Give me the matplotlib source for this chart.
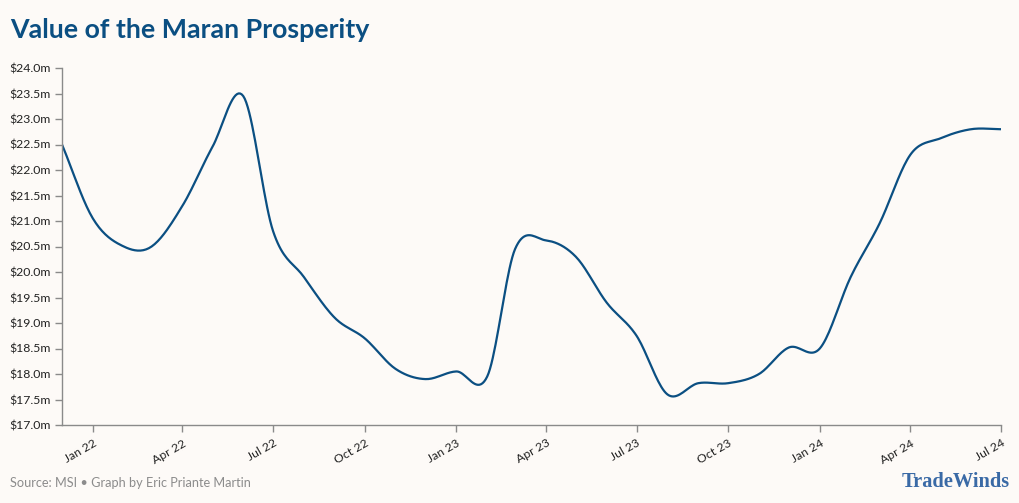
import numpy as np
import pandas as pd
import matplotlib
matplotlib.use("Agg")
import matplotlib.pyplot as plt
import matplotlib.dates as mdates

matplotlib.rcParams['font.family'] = ['Lato', 'DejaVu Sans']

# Monthly values, Dec 2021 - Jul 2024 ($m)
months = pd.date_range("2021-12-01", "2024-07-01", freq="MS")
values = [22.5, 21.05, 20.5, 20.5, 21.3, 22.45, 23.45, 20.8, 19.9, 19.1,
          18.7, 18.1, 17.9, 18.05, 17.95, 20.45, 20.62, 20.3, 19.4, 18.75,
          17.6, 17.82, 17.82, 18.0, 18.52, 18.5, 19.9, 20.95, 22.3, 22.62,
          22.8, 22.8]

tick_dates = pd.date_range("2022-01-01", "2024-07-01", freq="QS")
tick_labels = [d.strftime("%b %y") for d in tick_dates]
y_ticks = np.arange(17.0, 24.01, 0.5)

bg = "#fdfaf7"
line_col = "#0b4f82"
axis_col = "#8a8a8a"


def smooth(x, y, n=20):
    # catmull-rom style cubic hermite through the points
    x = np.asarray(x, float)
    y = np.asarray(y, float)
    m = np.zeros_like(y)
    m[1:-1] = (y[2:] - y[:-2]) / (x[2:] - x[:-2])
    m[0] = (y[1] - y[0]) / (x[1] - x[0])
    m[-1] = (y[-1] - y[-2]) / (x[-1] - x[-2])
    xs, ys = [], []
    for i in range(len(x) - 1):
        h = x[i + 1] - x[i]
        t = np.linspace(0, 1, n, endpoint=False)
        h00 = 2 * t**3 - 3 * t**2 + 1
        h10 = t**3 - 2 * t**2 + t
        h01 = -2 * t**3 + 3 * t**2
        h11 = t**3 - t**2
        xs.append(x[i] + t * h)
        ys.append(h00 * y[i] + h10 * h * m[i] + h01 * y[i + 1] + h11 * h * m[i + 1])
    xs.append([x[-1]])
    ys.append([y[-1]])
    return np.concatenate(xs), np.concatenate(ys)


xnum = mdates.date2num(months)
sx, sy = smooth(xnum, values)

fig = plt.figure(figsize=(10.2, 5.03), dpi=100, facecolor=bg)
ax = fig.add_axes([62 / 1020, 78 / 503, (1001 - 62) / 1020, (425 - 68) / 503])
ax.set_facecolor(bg)

ax.plot(sx, sy, color=line_col, linewidth=1.6, solid_capstyle="round")

ax.set_xlim(xnum[0], xnum[-1])
ax.set_ylim(17.0, 24.0)
ax.set_yticks(y_ticks)
ax.set_yticklabels([f"${v:.1f}m" for v in y_ticks])
ax.set_xticks(mdates.date2num(tick_dates))
ax.set_xticklabels(tick_labels, rotation=30, ha="right", rotation_mode="anchor")

for s in ["top", "right"]:
    ax.spines[s].set_visible(False)
for s in ["left", "bottom"]:
    ax.spines[s].set_color(axis_col)
    ax.spines[s].set_linewidth(1)
ax.tick_params(axis="both", colors=axis_col, length=5, width=1,
               labelsize=8.8, labelcolor="#222222")
ax.tick_params(axis="x", pad=4)
ax.tick_params(axis="y", pad=3)

fig.text(10 / 1020, 1 - 38 / 503, "Value of the Maran Prosperity",
         fontsize=19.3, fontweight="bold", color="#0b4f82", va="baseline")
fig.text(10 / 1020, 1 - 487 / 503, "Source: MSI \u2022 Graph by Eric Priante Martin",
         fontsize=9.2, color="#8c8c8c", va="baseline")
fig.text(1010 / 1020, 1 - 487 / 503, "TradeWinds", family="Liberation Serif",
         fontsize=14.7, fontweight="bold", color="#3a6aa6", ha="right", va="baseline")

fig.savefig("out.png", dpi=100, facecolor=bg)
